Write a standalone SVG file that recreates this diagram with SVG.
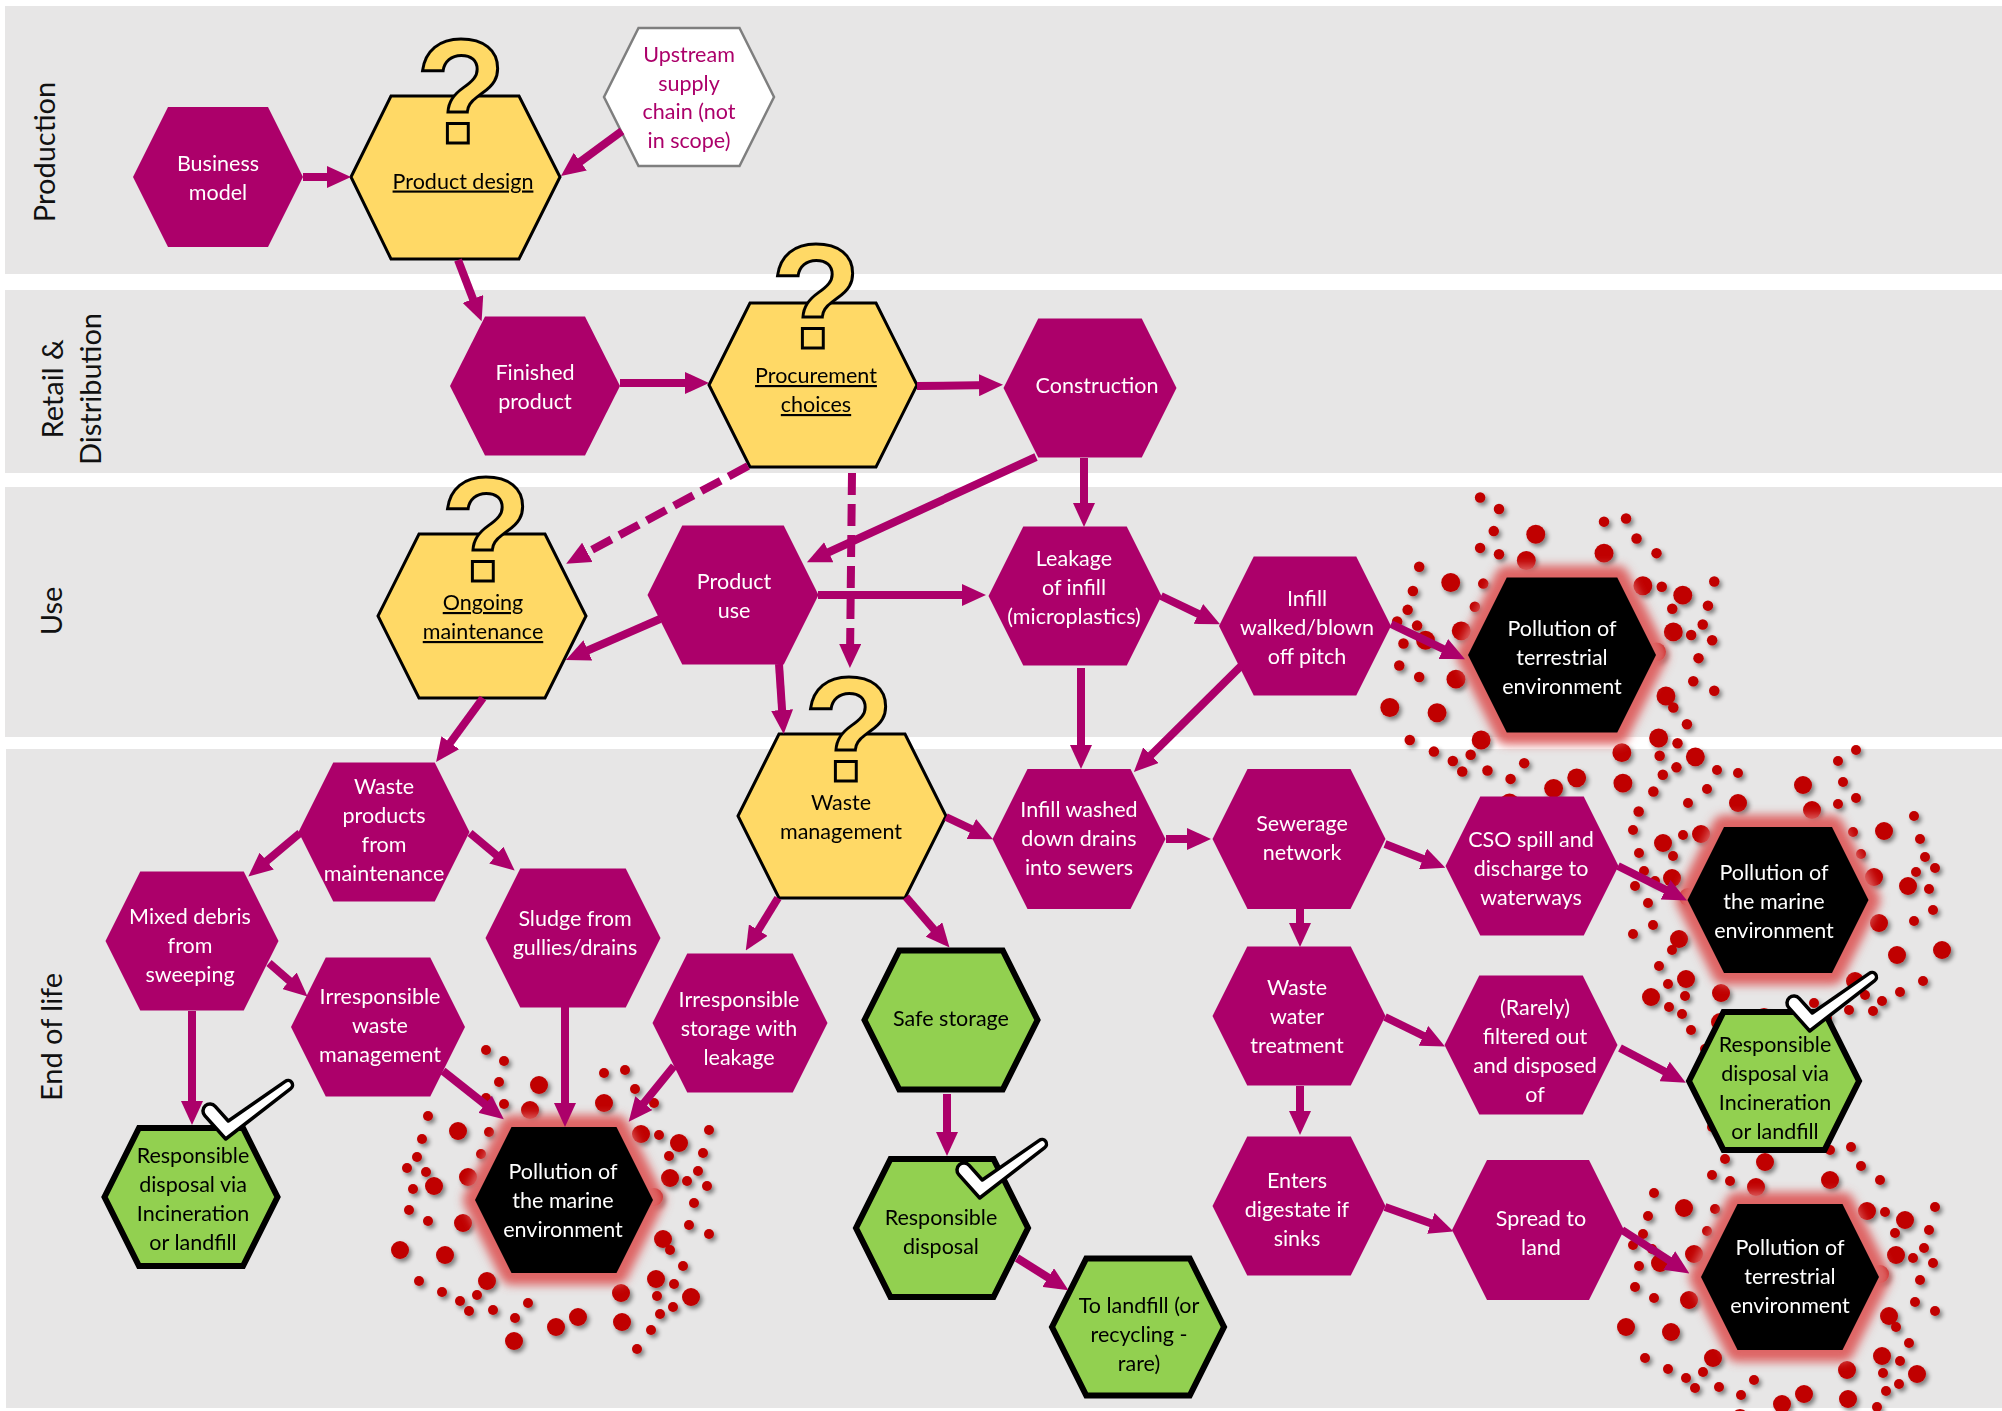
<svg xmlns="http://www.w3.org/2000/svg" xmlns:xlink="http://www.w3.org/1999/xlink" width="2002" height="1411" viewBox="0 0 2002 1411">
<defs>
<style>
.band{fill:#E7E6E6}
.lane{font-family:Lato,"Open Sans",sans-serif;font-size:29px;fill:#111;text-anchor:middle}
.hx{fill:#AC006A}
.yl{fill:#FFD966;stroke:#000;stroke-width:3}
.gr{fill:#92D050;stroke:#000;stroke-width:6}
.bk{fill:#000}
.up{fill:#fff;stroke:#7F7F7F;stroke-width:2.5}
.glow{fill:#DE6565;stroke:#DE6565;stroke-width:24;stroke-linejoin:round;filter:url(#blur)}
.t{font-family:Lato,"Liberation Sans",sans-serif;font-size:21.5px;text-anchor:middle}
.tw{fill:#fff}
.tk{fill:#000}
.tm{fill:#AC006A}
.u{text-decoration:underline}
.q{font-family:"Liberation Sans",Arial,sans-serif;font-weight:bold;font-size:148px;fill:#FFD966;stroke:#000;stroke-width:3;text-anchor:middle}
.c{fill:none;stroke:#AC006A;stroke-width:8;marker-end:url(#ah)}
.d{stroke-dasharray:22 9}
.chk{fill:#fff;stroke:#000;stroke-width:3.5;stroke-linejoin:round}
.dot{fill:#C00000}
</style>
<marker id="ah" markerUnits="userSpaceOnUse" markerWidth="24" markerHeight="22" viewBox="0 0 24 22" refX="14" refY="11" orient="auto"><path d="M0,0 L24,11 L0,22 Z" fill="#AC006A"/></marker>
<filter id="dsh" x="-10%" y="-10%" width="130%" height="130%"><feDropShadow dx="2.5" dy="3" stdDeviation="2" flood-color="#000" flood-opacity="0.45"/></filter>
<filter id="blur" x="-25%" y="-25%" width="150%" height="150%"><feGaussianBlur stdDeviation="5"/></filter>
<path id="chk" class="chk" d="M14.2,28.3 L27.3,43 L84.3,3.4 A4.5,4.5 0 0 1 89.7,10.6 L24.7,61 L3.8,37.7 A7,7 0 0 1 14.2,28.3 Z"/>
<!-- scatter of plastic particles, placed around each pollution node -->
<g id="dots" class="dot">
<circle cx="-78" cy="-150" r="5"/><circle cx="-60" cy="-139" r="5"/><circle cx="-65" cy="-118" r="5"/><circle cx="-25" cy="-115" r="9"/>
<circle cx="40" cy="-127" r="5"/><circle cx="61" cy="-130" r="5"/><circle cx="71" cy="-111" r="5"/><circle cx="40" cy="-97" r="9"/>
<circle cx="90" cy="-97" r="5"/><circle cx="-34" cy="-90" r="9"/><circle cx="-60" cy="-96" r="5"/><circle cx="-78" cy="-102" r="5"/>
<circle cx="-136" cy="-84" r="5"/><circle cx="-106" cy="-69" r="9"/><circle cx="-75" cy="-68" r="5"/><circle cx="-142" cy="-61" r="5"/>
<circle cx="77" cy="-66" r="9"/><circle cx="95" cy="-65" r="5"/><circle cx="115" cy="-57" r="9"/><circle cx="145" cy="-70" r="5"/>
<circle cx="-147" cy="-43" r="5"/><circle cx="-83" cy="-46" r="5"/><circle cx="105" cy="-44" r="5"/><circle cx="139" cy="-47" r="5"/>
<circle cx="-157" cy="-32" r="5"/><circle cx="-138" cy="-28" r="5"/><circle cx="-96" cy="-23" r="9"/><circle cx="106" cy="-22" r="9"/>
<circle cx="123" cy="-19" r="5"/><circle cx="134" cy="-29" r="5"/><circle cx="143" cy="-14" r="5"/><circle cx="-151" cy="-11" r="5"/>
<circle cx="-130" cy="-14" r="9"/><circle cx="90" cy="-3" r="9"/><circle cx="130" cy="3" r="5"/><circle cx="-155" cy="10" r="5"/>
<circle cx="-136" cy="21" r="5"/><circle cx="-101" cy="23" r="9"/><circle cx="125" cy="25" r="5"/><circle cx="145" cy="34" r="5"/>
<circle cx="99" cy="39" r="9"/><circle cx="106" cy="50" r="5"/><circle cx="-164" cy="50" r="9"/><circle cx="-119" cy="55" r="9"/>
<circle cx="119" cy="66" r="5"/><circle cx="-77" cy="81" r="9"/><circle cx="92" cy="79" r="9"/><circle cx="110" cy="84" r="5"/>
<circle cx="-145" cy="81" r="5"/><circle cx="-122" cy="92" r="5"/><circle cx="-87" cy="95" r="5"/><circle cx="-104" cy="101" r="5"/>
<circle cx="93" cy="96" r="5"/><circle cx="127" cy="97" r="9"/><circle cx="57" cy="93" r="9"/><circle cx="-95" cy="111" r="5"/>
<circle cx="-71" cy="110" r="5"/><circle cx="-36" cy="103" r="5"/><circle cx="109" cy="107" r="5"/><circle cx="96" cy="114" r="5"/>
<circle cx="-49" cy="118" r="5"/><circle cx="14" cy="117" r="9"/><circle cx="-8" cy="127" r="9"/><circle cx="58" cy="122" r="9"/>
<circle cx="87" cy="130" r="5"/><circle cx="-50" cy="141" r="9"/><circle cx="73" cy="149" r="5"/>
</g>
</defs>

<!-- swimlanes -->
<g id="lanes">
<rect class="band" x="5" y="6" width="1997" height="268"/>
<rect class="band" x="5" y="290" width="1997" height="183"/>
<rect class="band" x="5" y="487" width="1997" height="250"/>
<rect class="band" x="6" y="749" width="1996" height="659"/>
<text class="lane" transform="translate(55,152) rotate(-90)">Production</text>
<text class="lane" transform="translate(63,389) rotate(-90)">Retail &amp;</text>
<text class="lane" transform="translate(101,389) rotate(-90)">Distribution</text>
<text class="lane" transform="translate(62,611) rotate(-90)">Use</text>
<text class="lane" transform="translate(62,1037) rotate(-90)">End of life</text>
</g>

<!-- particle scatter -->
<g id="particles" filter="url(#dsh)">
<use href="#dots" transform="translate(1562,655) scale(1.05)"/>
<use href="#dots" transform="translate(564,1200)"/>
<use href="#dots" transform="translate(1778,900) scale(-1,1)"/>
<use href="#dots" transform="translate(1790,1277)"/>
</g>

<!-- production -->
<g id="business-model"><polygon class="hx" points="133,177 168,107 268,107 303,177 268,247 168,247"/>
<text class="t tw" y="171"><tspan x="218">Business</tspan><tspan x="218" dy="29">model</tspan></text></g>

<g id="product-design"><polygon class="yl" points="351,177 391,96 519,96 560,177 519,259 391,259"/>
<text class="t tk u" x="463" y="188.5">Product design</text>
<text class="q" x="461" y="143">?</text></g>

<g id="upstream-supply"><polygon class="up" points="604,97 638.5,28 739.5,28 774,97 739.5,166 638.5,166"/>
<text class="t tm" y="62"><tspan x="689">Upstream</tspan><tspan x="689" dy="28.5">supply</tspan><tspan x="689" dy="28.5">chain (not</tspan><tspan x="689" dy="28.5">in scope)</tspan></text></g>

<!-- retail & distribution -->
<g id="finished-product"><polygon class="hx" points="450,386 485,316.5 585,316.5 620,386 585,455.5 485,455.5"/>
<text class="t tw" y="380"><tspan x="535">Finished</tspan><tspan x="535" dy="29">product</tspan></text></g>

<g id="procurement-choices"><polygon class="yl" points="709,385 750,303 876,303 917,385 876,467 750,467"/>
<text class="t tk u" y="383"><tspan x="816">Procurement</tspan><tspan x="816" dy="29">choices</tspan></text>
<text class="q" x="816" y="348">?</text></g>

<g id="construction"><polygon class="hx" points="1003.5,388 1038.25,318.5 1141.75,318.5 1176.5,388 1141.75,457.5 1038.25,457.5"/>
<text class="t tw" x="1097" y="392.5">Construction</text></g>

<!-- use -->
<g id="ongoing-maintenance"><polygon class="yl" points="378,616 419,534 545,534 586,616 545,698 419,698"/>
<text class="t tk u" y="610"><tspan x="483">Ongoing</tspan><tspan x="483" dy="29">maintenance</tspan></text>
<text class="q" x="486" y="581">?</text></g>

<g id="product-use"><polygon class="hx" points="647.5,595 682.25,525.5 783.75,525.5 818.5,595 783.75,664.5 682.25,664.5"/>
<text class="t tw" y="588.5"><tspan x="734">Product</tspan><tspan x="734" dy="29">use</tspan></text></g>

<g id="leakage-of-infill"><polygon class="hx" points="988.5,596 1023.25,526.5 1126.75,526.5 1161.5,596 1126.75,665.5 1023.25,665.5"/>
<text class="t tw" y="565.5"><tspan x="1074">Leakage</tspan><tspan x="1074" dy="29">of infill</tspan><tspan x="1074" dy="29">(microplastics)</tspan></text></g>

<g id="infill-off-pitch"><polygon class="hx" points="1219,626 1253.75,556.5 1356.25,556.5 1391,626 1356.25,695.5 1253.75,695.5"/>
<text class="t tw" y="605.5"><tspan x="1307">Infill</tspan><tspan x="1307" dy="29">walked/blown</tspan><tspan x="1307" dy="29">off pitch</tspan></text></g>

<g id="pollution-terrestrial-1"><polygon class="glow" points="1468,655 1506.75,577.5 1617.25,577.5 1656,655 1617.25,732.5 1506.75,732.5"/>
<polygon class="bk" points="1468,655 1506.75,577.5 1617.25,577.5 1656,655 1617.25,732.5 1506.75,732.5"/>
<text class="t tw" y="635.5"><tspan x="1562">Pollution of</tspan><tspan x="1562" dy="29">terrestrial</tspan><tspan x="1562" dy="29">environment</tspan></text></g>

<!-- end of life -->
<g id="waste-management"><polygon class="yl" points="738,816 779,734 905,734 946,816 905,898 779,898"/>
<text class="t tk" y="810"><tspan x="841">Waste</tspan><tspan x="841" dy="29">management</tspan></text>
<text class="q" x="849" y="781">?</text></g>

<g id="waste-from-maintenance"><polygon class="hx" points="298.5,832 333.25,762.5 434.75,762.5 469.5,832 434.75,901.5 333.25,901.5"/>
<text class="t tw" y="794"><tspan x="384">Waste</tspan><tspan x="384" dy="29">products</tspan><tspan x="384" dy="29">from</tspan><tspan x="384" dy="29">maintenance</tspan></text></g>

<g id="mixed-debris"><polygon class="hx" points="105.5,941 140.25,871.5 243.75,871.5 278.5,941 243.75,1010.5 140.25,1010.5"/>
<text class="t tw" y="923.5"><tspan x="190">Mixed debris</tspan><tspan x="190" dy="29">from</tspan><tspan x="190" dy="29">sweeping</tspan></text></g>

<g id="irresponsible-waste"><polygon class="hx" points="291,1027 325.75,957.5 430.25,957.5 465,1027 430.25,1096.5 325.75,1096.5"/>
<text class="t tw" y="1003.5"><tspan x="380">Irresponsible</tspan><tspan x="380" dy="29">waste</tspan><tspan x="380" dy="29">management</tspan></text></g>

<g id="sludge"><polygon class="hx" points="485.5,938 520.25,868.5 625.75,868.5 660.5,938 625.75,1007.5 520.25,1007.5"/>
<text class="t tw" y="926"><tspan x="575">Sludge from</tspan><tspan x="575" dy="29">gullies/drains</tspan></text></g>

<g id="responsible-disposal-1"><polygon class="gr" points="104.5,1197 139,1128 243,1128 277.5,1197 243,1266 139,1266"/>
<text class="t tk" y="1163"><tspan x="193">Responsible</tspan><tspan x="193" dy="29">disposal via</tspan><tspan x="193" dy="29">Incineration</tspan><tspan x="193" dy="29">or landfill</tspan></text>
<use href="#chk" x="201" y="1078"/></g>

<g id="pollution-marine-1"><polygon class="glow" points="475,1200 511.5,1127 616.5,1127 653,1200 616.5,1273 511.5,1273"/>
<polygon class="bk" points="475,1200 511.5,1127 616.5,1127 653,1200 616.5,1273 511.5,1273"/>
<text class="t tw" y="1178.5"><tspan x="563">Pollution of</tspan><tspan x="563" dy="29">the marine</tspan><tspan x="563" dy="29">environment</tspan></text></g>

<g id="irresponsible-storage"><polygon class="hx" points="652.5,1023 687.25,953.5 792.75,953.5 827.5,1023 792.75,1092.5 687.25,1092.5"/>
<text class="t tw" y="1006.5"><tspan x="739">Irresponsible</tspan><tspan x="739" dy="29">storage with</tspan><tspan x="739" dy="29">leakage</tspan></text></g>

<g id="safe-storage"><polygon class="gr" points="864.5,1020 899.25,950.5 1002.75,950.5 1037.5,1020 1002.75,1089.5 899.25,1089.5"/>
<text class="t tk" x="951" y="1025.5">Safe storage</text></g>

<g id="responsible-disposal-2"><polygon class="gr" points="856,1228 890.5,1159 993.5,1159 1028,1228 993.5,1297 890.5,1297"/>
<text class="t tk" y="1225"><tspan x="941">Responsible</tspan><tspan x="941" dy="29">disposal</tspan></text>
<use href="#chk" x="955" y="1137"/></g>

<g id="to-landfill"><polygon class="gr" points="1052,1327 1086.25,1258.5 1189.75,1258.5 1224,1327 1189.75,1395.5 1086.25,1395.5"/>
<text class="t tk" y="1312.5"><tspan x="1139">To landfill (or</tspan><tspan x="1139" dy="29">recycling -</tspan><tspan x="1139" dy="29">rare)</tspan></text></g>

<g id="infill-washed"><polygon class="hx" points="992.5,839 1027.5,769 1130.5,769 1165.5,839 1130.5,909 1027.5,909"/>
<text class="t tw" y="816.5"><tspan x="1079">Infill washed</tspan><tspan x="1079" dy="29">down drains</tspan><tspan x="1079" dy="29">into sewers</tspan></text></g>

<g id="sewerage-network"><polygon class="hx" points="1212.5,839 1247.5,769 1350.5,769 1385.5,839 1350.5,909 1247.5,909"/>
<text class="t tw" y="831"><tspan x="1302">Sewerage</tspan><tspan x="1302" dy="29">network</tspan></text></g>

<g id="cso-spill"><polygon class="hx" points="1445.5,866 1480.25,796.5 1583.75,796.5 1618.5,866 1583.75,935.5 1480.25,935.5"/>
<text class="t tw" y="846.5"><tspan x="1531">CSO spill and</tspan><tspan x="1531" dy="29">discharge to</tspan><tspan x="1531" dy="29">waterways</tspan></text></g>

<g id="pollution-marine-2"><polygon class="glow" points="1687.5,900 1724,827 1832,827 1868.5,900 1832,973 1724,973"/>
<polygon class="bk" points="1687.5,900 1724,827 1832,827 1868.5,900 1832,973 1724,973"/>
<text class="t tw" y="879.5"><tspan x="1774">Pollution of</tspan><tspan x="1774" dy="29">the marine</tspan><tspan x="1774" dy="29">environment</tspan></text></g>

<g id="waste-water-treatment"><polygon class="hx" points="1212.5,1016 1247.25,946.5 1350.75,946.5 1385.5,1016 1350.75,1085.5 1247.25,1085.5"/>
<text class="t tw" y="994.5"><tspan x="1297">Waste</tspan><tspan x="1297" dy="29">water</tspan><tspan x="1297" dy="29">treatment</tspan></text></g>

<g id="filtered-out"><polygon class="hx" points="1444.5,1045 1479.25,975.5 1582.75,975.5 1617.5,1045 1582.75,1114.5 1479.25,1114.5"/>
<text class="t tw" y="1015"><tspan x="1535">(Rarely)</tspan><tspan x="1535" dy="29">filtered out</tspan><tspan x="1535" dy="29">and disposed</tspan><tspan x="1535" dy="29">of</tspan></text></g>

<g id="responsible-disposal-3"><polygon class="gr" points="1689,1081 1723.5,1012 1824.5,1012 1859,1081 1824.5,1150 1723.5,1150"/>
<text class="t tk" y="1052"><tspan x="1775">Responsible</tspan><tspan x="1775" dy="29">disposal via</tspan><tspan x="1775" dy="29">Incineration</tspan><tspan x="1775" dy="29">or landfill</tspan></text>
<use href="#chk" x="1785" y="970"/></g>

<g id="enters-digestate"><polygon class="hx" points="1212.5,1206 1247.25,1136.5 1350.75,1136.5 1385.5,1206 1350.75,1275.5 1247.25,1275.5"/>
<text class="t tw" y="1187.5"><tspan x="1297">Enters</tspan><tspan x="1297" dy="29">digestate if</tspan><tspan x="1297" dy="29">sinks</tspan></text></g>

<g id="spread-to-land"><polygon class="hx" points="1452,1230 1487,1160 1589,1160 1624,1230 1589,1300 1487,1300"/>
<text class="t tw" y="1226"><tspan x="1541">Spread to</tspan><tspan x="1541" dy="29">land</tspan></text></g>

<g id="pollution-terrestrial-2"><polygon class="glow" points="1701,1277 1737.5,1204 1842.5,1204 1879,1277 1842.5,1350 1737.5,1350"/>
<polygon class="bk" points="1701,1277 1737.5,1204 1842.5,1204 1879,1277 1842.5,1350 1737.5,1350"/>
<text class="t tw" y="1254.5"><tspan x="1790">Pollution of</tspan><tspan x="1790" dy="29">terrestrial</tspan><tspan x="1790" dy="29">environment</tspan></text></g>

<!-- connectors -->
<g id="connectors">
<path class="c" d="M303,177 L341,177"/>
<path class="c" d="M622,131 L569,170"/>
<path class="c" d="M458,260 L478,312"/>
<path class="c" d="M620,383 L699,383"/>
<path class="c" d="M917,386 L993,385"/>
<path class="c d" d="M748,466 L575,559"/>
<path class="c d" d="M852,473 L850,658"/>
<path class="c" d="M1036,457 L816,558"/>
<path class="c" d="M1084,458 L1084,517"/>
<path class="c" d="M818,595 L976,595"/>
<path class="c" d="M660,619 L575,656"/>
<path class="c" d="M779,664 L783,724"/>
<path class="c" d="M1161,596 L1211,620"/>
<path class="c" d="M1081,668 L1081,759"/>
<path class="c" d="M1241,666 L1141,765"/>
<path class="c" d="M1391,624 L1456,655"/>
<path class="c" d="M483,698 L442,754"/>
<path class="c" d="M300,833 L256,870"/>
<path class="c" d="M470,833 L507,864"/>
<path class="c" d="M269,963 L300,990"/>
<path class="c" d="M192,1011 L192,1115"/>
<path class="c" d="M443,1071 L496,1113"/>
<path class="c" d="M565,1007 L565,1117"/>
<path class="c" d="M674,1066 L635,1114"/>
<path class="c" d="M778,898 L751,942"/>
<path class="c" d="M906,897 L943,940"/>
<path class="c" d="M946,817 L984,835"/>
<path class="c" d="M1166,839 L1201,839"/>
<path class="c" d="M1385,844 L1436,864"/>
<path class="c" d="M1618,866 L1678,896"/>
<path class="c" d="M1300,909 L1300,937"/>
<path class="c" d="M1385,1017 L1436,1042"/>
<path class="c" d="M1620,1048 L1677,1078"/>
<path class="c" d="M1300,1086 L1300,1125"/>
<path class="c" d="M1385,1207 L1444,1228"/>
<path class="c" d="M1622,1230 L1681,1268"/>
<path class="c" d="M947,1094 L947,1146"/>
<path class="c" d="M1017,1258 L1060,1285"/>
</g>
</svg>
